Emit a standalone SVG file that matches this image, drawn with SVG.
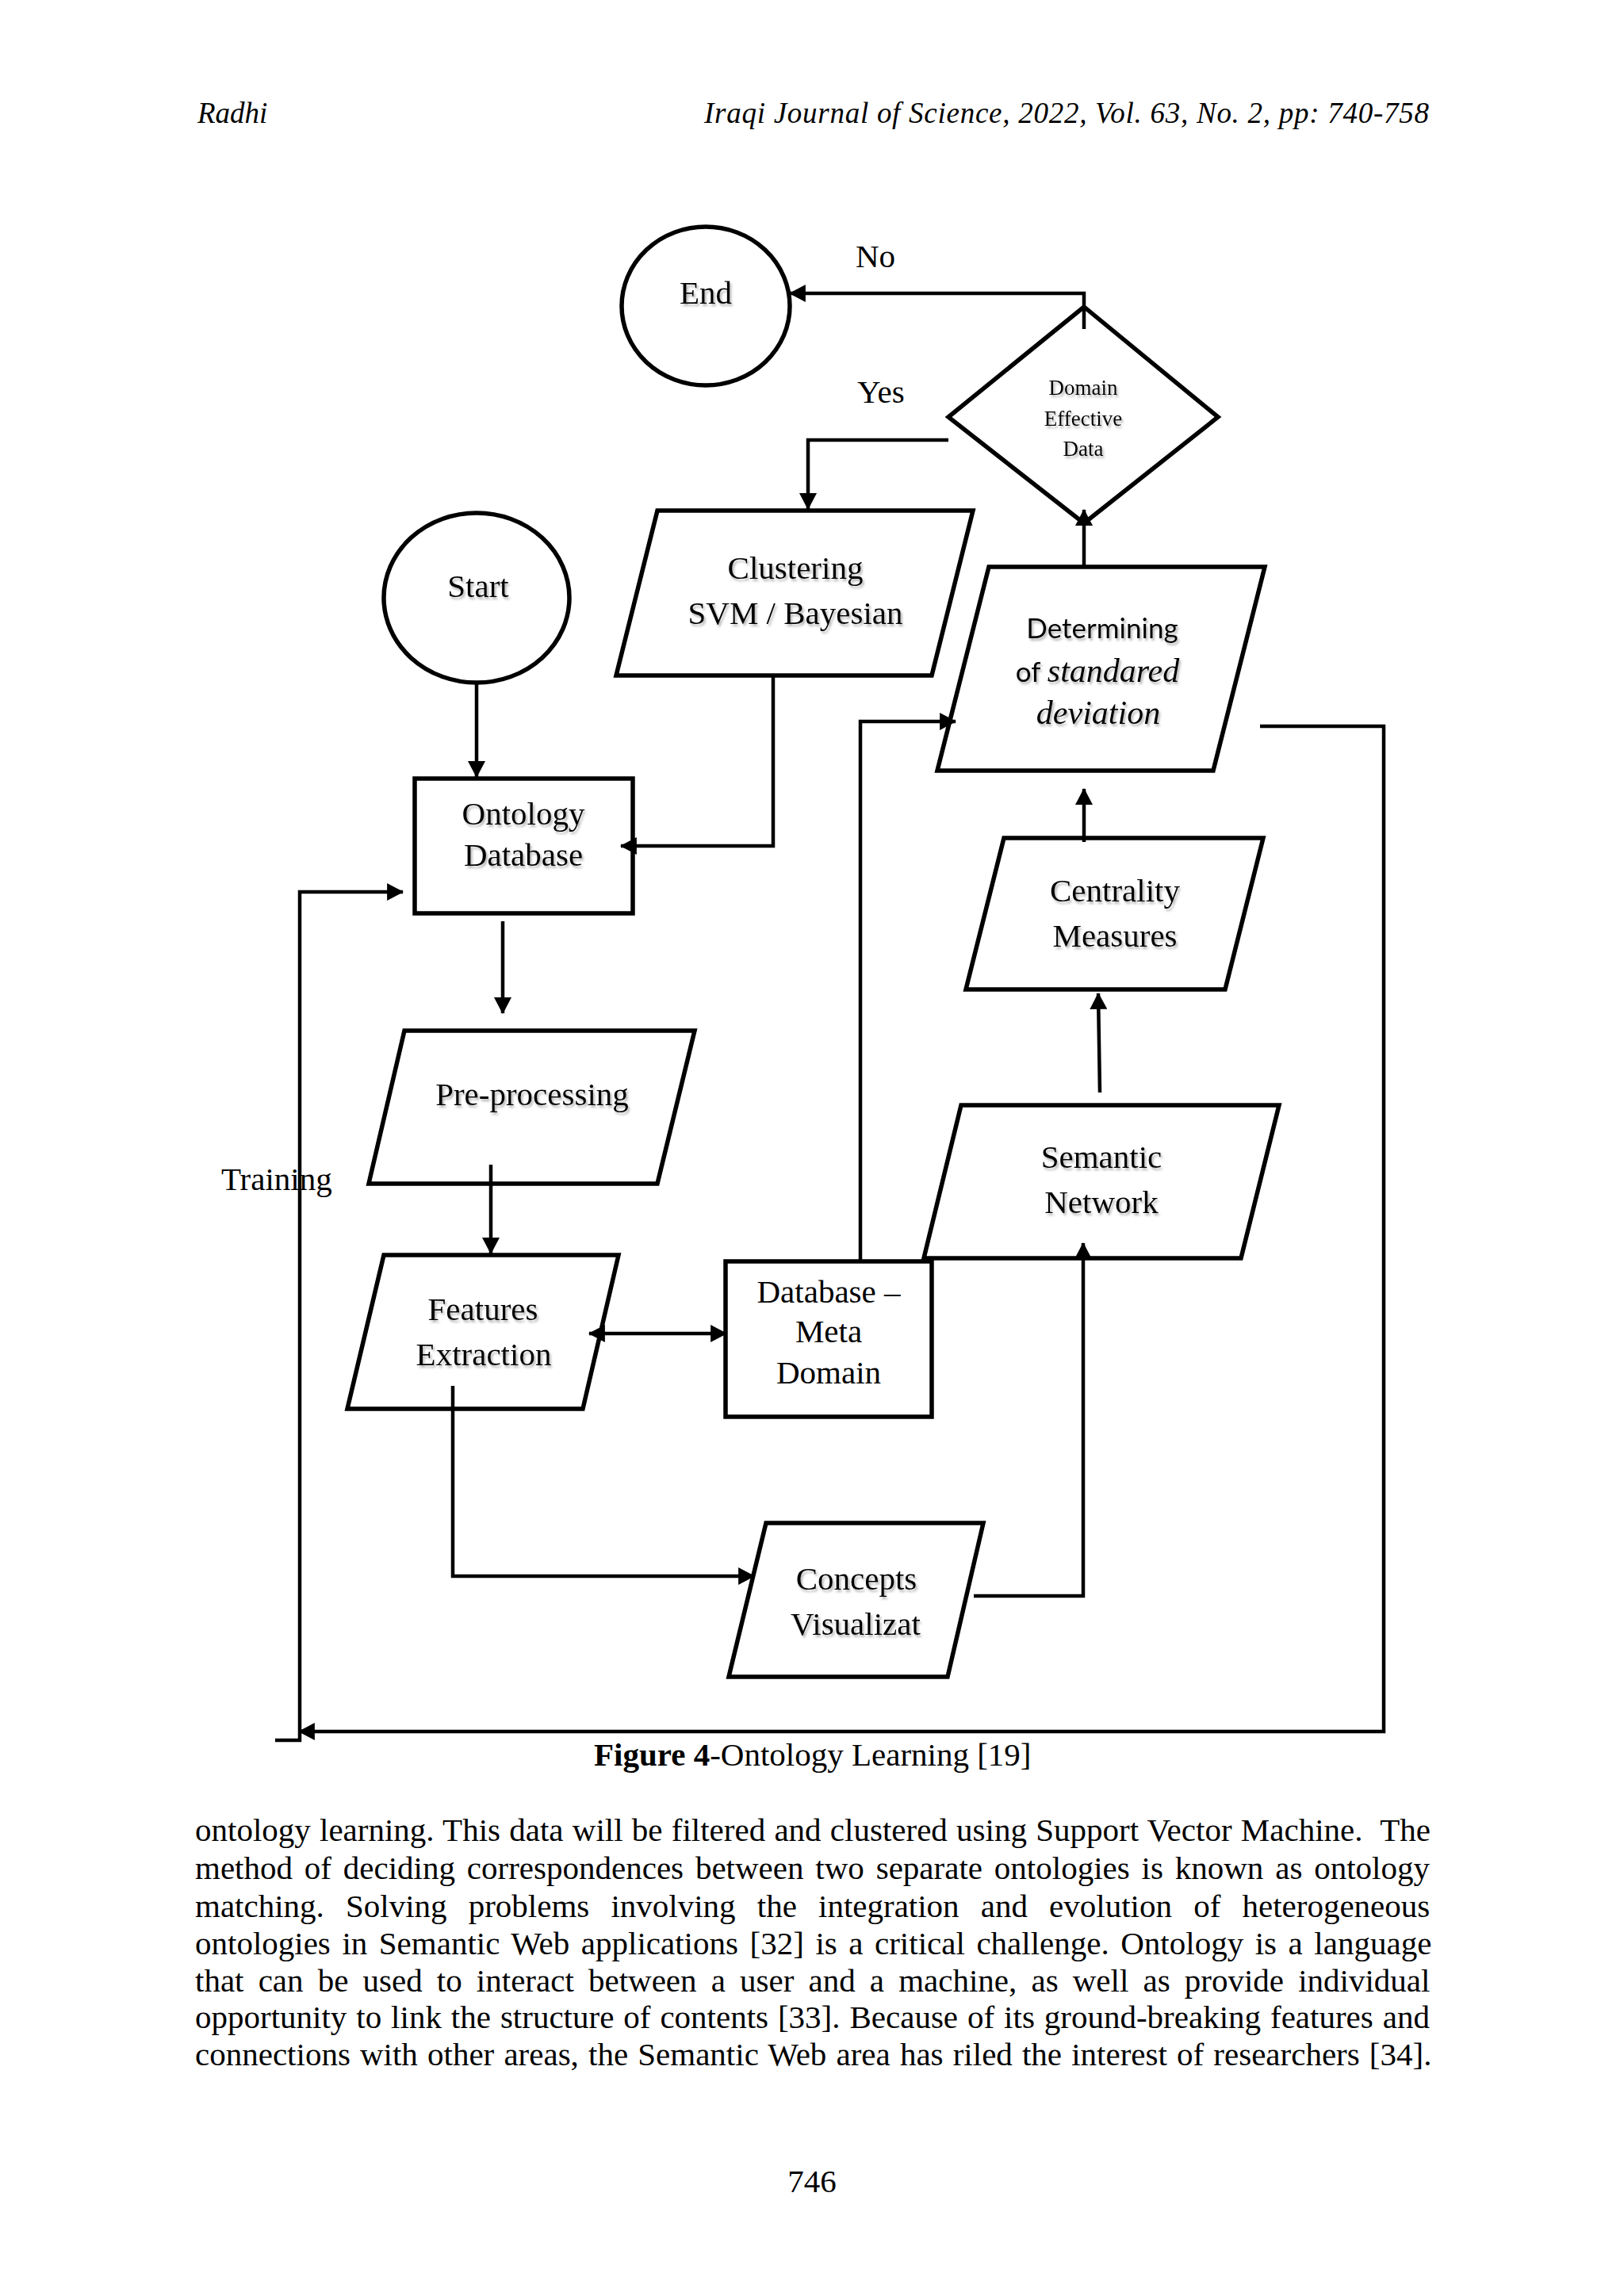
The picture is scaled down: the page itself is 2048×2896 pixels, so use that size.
<svg xmlns="http://www.w3.org/2000/svg" width="2048" height="2896" viewBox="0 0 2048 2896">
<defs>
<style>
.node{fill:none;stroke:#000;stroke-width:5.5;stroke-linejoin:miter}
.conn{fill:none;stroke:#000;stroke-width:4.5;stroke-linejoin:miter}
.lbl{font-family:"Liberation Serif","Times New Roman",serif;font-size:41px;fill:#000;text-anchor:middle}
.sh{filter:url(#shadow)}
.dia{font-family:"Liberation Serif","Times New Roman",serif;font-size:27px;fill:#000;text-anchor:middle}
.sans{font-family:Lato,"Liberation Sans",sans-serif;font-size:35px;fill:#000}
.mathi{font-family:"Liberation Serif","DejaVu Serif",serif;font-style:italic;font-size:42px;fill:#000}
.plain{font-family:"Liberation Serif","Times New Roman",serif;font-size:41px;fill:#000}
.hdr{font-family:"Liberation Serif","Times New Roman",serif;font-style:italic;font-size:37px;fill:#000}
.body{font-family:"Liberation Serif","Times New Roman",serif;font-size:41px;fill:#000}
</style>
<filter id="shadow" x="-10%" y="-30%" width="130%" height="160%">
<feDropShadow dx="2" dy="3" stdDeviation="1.8" flood-color="#777" flood-opacity="0.55"/>
</filter>
<marker id="ah" markerUnits="userSpaceOnUse" markerWidth="22" markerHeight="22" viewBox="0 0 20 21" refX="19" refY="10.5" orient="auto-start-reverse">
<path d="M0,0 L20,10.5 L0,21 z" fill="#000"/>
</marker>
</defs>
<rect width="2048" height="2896" fill="#fff"/>

<text class="hdr" x="249" y="155">Radhi</text>
<text class="hdr" x="1802" y="155" text-anchor="end" textLength="914" lengthAdjust="spacing">Iraqi Journal of Science, 2022, Vol. 63, No. 2, pp: 740-758</text>

<g id="connectors">
<line class="conn" x1="601" y1="862" x2="601" y2="980" marker-end="url(#ah)"/>
<line class="conn" x1="634" y1="1162" x2="634" y2="1278" marker-end="url(#ah)"/>
<line class="conn" x1="619" y1="1469" x2="619" y2="1581" marker-end="url(#ah)"/>
<line class="conn" x1="743" y1="1682" x2="916" y2="1682" marker-start="url(#ah)" marker-end="url(#ah)"/>
<polyline class="conn" points="571,1748 571,1988 951,1988" marker-end="url(#ah)"/>
<polyline class="conn" points="1228,2013 1366,2013 1366,1568" marker-end="url(#ah)"/>
<line class="conn" x1="1387" y1="1378" x2="1385" y2="1253" marker-end="url(#ah)"/>
<line class="conn" x1="1367" y1="1062" x2="1367" y2="995" marker-end="url(#ah)"/>
<line class="conn" x1="1367" y1="715" x2="1367" y2="643" marker-end="url(#ah)"/>
<polyline class="conn" points="1367,415 1367,370 996,370" marker-end="url(#ah)"/>
<polyline class="conn" points="1196,555 1019,555 1019,642" marker-end="url(#ah)"/>
<polyline class="conn" points="975,853 975,1067 783,1067" marker-end="url(#ah)"/>
<polyline class="conn" points="1085,1592 1085,910 1205,910" marker-end="url(#ah)"/>
<polyline class="conn" points="1589,916 1745,916 1745,2184 377,2184" marker-end="url(#ah)"/>
<polyline class="conn" points="347,2195 378,2195 378,1125 508,1125" marker-end="url(#ah)"/>
</g>

<g id="end">
<ellipse class="node" cx="890" cy="386" rx="106" ry="100"/>
<text class="lbl sh" x="890" y="383">End</text>
</g>
<text class="plain" x="1079" y="337">No</text>
<text class="plain" x="1081" y="508">Yes</text>

<g id="decision">
<polygon class="node" points="1367,387 1536,526 1367,660 1196,526"/>
<text class="dia sh" x="1366" y="498">Domain</text>
<text class="dia sh" x="1366" y="537">Effective</text>
<text class="dia sh" x="1366" y="575">Data</text>
</g>

<g id="start">
<ellipse class="node" cx="601" cy="754" rx="117" ry="107"/>
<text class="lbl sh" x="603" y="753">Start</text>
</g>

<g id="clustering">
<polygon class="node" points="829,644 1227,644 1175,852 777,852"/>
<text class="lbl sh" x="1003" y="730">Clustering</text>
<text class="lbl sh" x="1003" y="787">SVM / Bayesian</text>
</g>

<g id="determining">
<polygon class="node" points="1247,715 1595,715 1530,972 1182,972"/>
<text class="sans sh" x="1390" y="805" text-anchor="middle">Determining</text>
<text class="sh" x="1384" y="860" text-anchor="middle"><tspan class="sans">of </tspan><tspan class="mathi">standared</tspan></text>
<text class="mathi sh" x="1385" y="913" text-anchor="middle">deviation</text>
</g>

<g id="ontology-db">
<rect class="node" x="523" y="982" width="275" height="170"/>
<text class="lbl sh" x="660" y="1040">Ontology</text>
<text class="lbl sh" x="660" y="1092">Database</text>
</g>

<g id="centrality">
<polygon class="node" points="1266,1057 1593,1057 1545,1248 1218,1248"/>
<text class="lbl sh" x="1406" y="1137">Centrality</text>
<text class="lbl sh" x="1406" y="1194">Measures</text>
</g>

<g id="preprocessing">
<polygon class="node" points="510,1300 876,1300 829,1493 465,1493"/>
<text class="lbl sh" x="671" y="1394">Pre-processing</text>
</g>

<text class="plain" x="279" y="1501">Training</text>

<g id="semantic">
<polygon class="node" points="1212,1394 1613,1394 1565,1587 1165,1587"/>
<text class="lbl sh" x="1389" y="1473">Semantic</text>
<text class="lbl sh" x="1389" y="1530">Network</text>
</g>

<g id="features">
<polygon class="node" points="484,1583 780,1583 735,1777 438,1777"/>
<text class="lbl sh" x="609" y="1665">Features</text>
<text class="lbl sh" x="610" y="1722">Extraction</text>
</g>

<g id="db-meta">
<rect class="node" x="915" y="1591" width="260" height="196"/>
<text class="lbl" x="1045" y="1643">Database –</text>
<text class="lbl" x="1045" y="1693">Meta</text>
<text class="lbl" x="1045" y="1745">Domain</text>
</g>

<g id="concepts">
<polygon class="node" points="966,1921 1240,1921 1195,2115 919,2115"/>
<text class="lbl sh" x="1080" y="2005">Concepts</text>
<text class="lbl sh" x="1079" y="2062">Visualizat</text>
</g>

<text class="plain" x="749" y="2227"><tspan font-weight="bold">Figure 4</tspan>-Ontology Learning [19]</text>

<g id="body-text">
<text class="body" x="246" y="2322" word-spacing="1.0">ontology learning. This data will be filtered and clustered using Support Vector Machine.&#160; The</text>
<text class="body" x="246" y="2370" word-spacing="4.6">method of deciding correspondences between two separate ontologies is known as ontology</text>
<text class="body" x="246" y="2418" word-spacing="16.9">matching. Solving problems involving the integration and evolution of heterogeneous</text>
<text class="body" x="246" y="2465" word-spacing="4.3">ontologies in Semantic Web applications [32] is a critical challenge. Ontology is a language</text>
<text class="body" x="246" y="2512" word-spacing="7.9">that can be used to interact between a user and a machine, as well as provide individual</text>
<text class="body" x="246" y="2558" word-spacing="1.7">opportunity to link the structure of contents [33]. Because of its ground-breaking features and</text>
<text class="body" x="246" y="2605" word-spacing="1.9">connections with other areas, the Semantic Web area has riled the interest of researchers [34].</text>
</g>

<text class="plain" x="1024" y="2765" text-anchor="middle" font-size="37">746</text>
</svg>
